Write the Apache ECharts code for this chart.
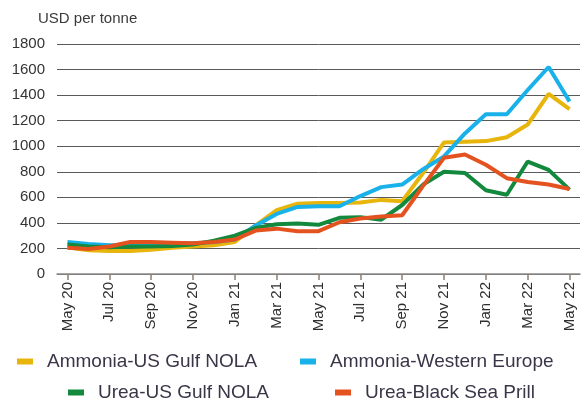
<!DOCTYPE html>
<html>
<head>
<meta charset="utf-8">
<style>
  html, body { margin: 0; padding: 0; background: #fff; }
  #chart { width: 582px; height: 402px; }
</style>
<script src="https://cdn.jsdelivr.net/npm/echarts@6/dist/echarts.min.js"></script>
</head>
<body>
<div id="chart"></div>
<script>
// Monthly fertilizer prices, USD per tonne
const months = [
  "May 20", "Jun 20", "Jul 20", "Aug 20", "Sep 20", "Oct 20", "Nov 20", "Dec 20",
  "Jan 21", "Feb 21", "Mar 21", "Apr 21", "May 21", "Jun 21", "Jul 21", "Aug 21",
  "Sep 21", "Oct 21", "Nov 21", "Dec 21", "Jan 22", "Feb 22", "Mar 22", "Apr 22", "May 22"
];

const ammoniaUsGulf = [210, 185, 180, 180, 190, 205, 215, 225, 250, 380, 500, 550, 555,
  555, 560, 580, 570, 790, 1030, 1035, 1040, 1070, 1170, 1410, 1290];

const ammoniaWesternEurope = [250, 235, 225, 225, 235, 240, 240, 250, 270, 380, 470, 525, 530,
  530, 610, 680, 700, 820, 920, 1100, 1250, 1250, 1440, 1620, 1350];

const ureaUsGulf = [230, 215, 210, 215, 215, 220, 230, 260, 300, 360, 390, 395, 385,
  440, 445, 425, 540, 700, 800, 790, 655, 620, 880, 815, 660];

const ureaBlackSea = [205, 195, 215, 250, 250, 245, 240, 250, 270, 340, 355, 335, 335,
  405, 435, 450, 460, 690, 910, 935, 855, 750, 720, 700, 665];

const yTicks = { min: 0, max: 1800, step: 200 };

const chart = echarts.init(document.getElementById('chart'), null, { renderer: 'canvas' });

const fontFamily = '"Liberation Sans", Arial, Helvetica, sans-serif';

const palette = {
  ammoniaUs: '#e8b50c',
  ammoniaEu: '#18b1ea',
  ureaUs: '#13893e',
  ureaBs: '#e4531f'
};

function line(name, data, color) {
  return {
    name: name,
    type: 'line',
    data: data,
    symbol: 'none',
    smooth: false,
    lineStyle: { width: 4, color: color },
    itemStyle: { color: color }
  };
}

// One legend entry per block so each sits where the two-row key needs it
function legendEntry(name, left, top) {
  return {
    data: [name],
    left: left,
    top: top,
    itemWidth: 16,
    itemHeight: 6,
    icon: 'rect',
    textStyle: { fontFamily: fontFamily, fontSize: 19, color: '#3b3548', padding: [0, 0, 0, 9] }
  };
}

chart.setOption({
  animation: false,
  backgroundColor: '#ffffff',
  title: {
    text: 'USD per tonne',
    left: 33,
    top: 6,
    textStyle: { fontFamily: fontFamily, fontSize: 15, fontWeight: 'normal', color: '#3a3a3a' }
  },
  grid: { left: 57, right: 2, top: 44, bottom: 128, containLabel: false },
  legend: [
    legendEntry('Ammonia-US Gulf NOLA', 12, 347),
    legendEntry('Ammonia-Western Europe', 295, 347),
    legendEntry('Urea-US Gulf NOLA', 63, 378),
    legendEntry('Urea-Black Sea Prill', 330, 378)
  ],
  xAxis: {
    type: 'category',
    data: months,
    boundaryGap: true,
    axisLine: { show: true, lineStyle: { color: '#8c8c8c', width: 1.5 } },
    axisTick: { show: true, alignWithLabel: true, interval: 1, length: 6, lineStyle: { color: '#8c8070', width: 1.5 } },
    axisLabel: {
      interval: 1,
      rotate: 90,
      margin: 8,
      fontFamily: fontFamily,
      fontSize: 15,
      color: '#2e2e2e'
    },
    splitLine: { show: false }
  },
  yAxis: {
    type: 'value',
    min: yTicks.min,
    max: yTicks.max,
    interval: yTicks.step,
    axisLine: { show: false },
    axisTick: { show: false },
    axisLabel: {
      margin: 12,
      fontFamily: fontFamily,
      fontSize: 15,
      color: '#333333',
      formatter: function (v) { return String(v); }
    },
    splitLine: { show: true, lineStyle: { color: '#5a5a5a', width: 1 } }
  },
  series: [
    line('Ammonia-US Gulf NOLA', ammoniaUsGulf, palette.ammoniaUs),
    line('Ammonia-Western Europe', ammoniaWesternEurope, palette.ammoniaEu),
    line('Urea-US Gulf NOLA', ureaUsGulf, palette.ureaUs),
    line('Urea-Black Sea Prill', ureaBlackSea, palette.ureaBs)
  ]
});
</script>
</body>
</html>
